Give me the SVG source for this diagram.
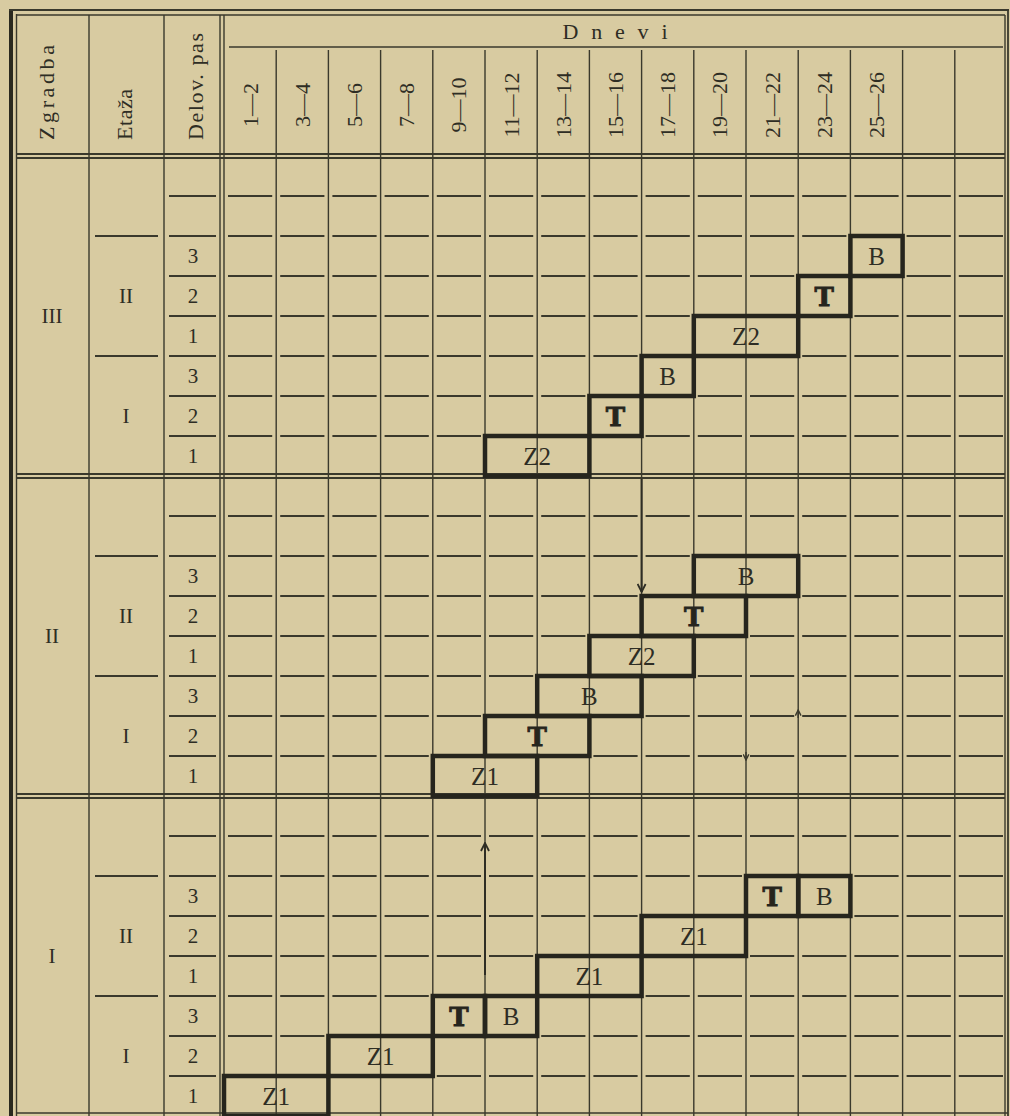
<svg xmlns="http://www.w3.org/2000/svg" width="1010" height="1116" viewBox="0 0 1010 1116">
<defs>
<style>
.bg{fill:#d8cba1}
.ln{stroke:#3a392c;stroke-width:1.4;fill:none}
.hl{stroke:#3a392c;stroke-width:1.8;fill:none}
.dash{stroke:#3a392c;stroke-width:2;fill:none;stroke-dasharray:44.2 8}
.bx{stroke:#26251d;stroke-width:4.5;fill:none;stroke-linejoin:miter}
.txt{font-family:"Liberation Serif","Times New Roman",serif;fill:#2e2d24}
.hdr{font-size:22px}
.day{font-size:22px;text-anchor:middle}
.lbl{font-size:21px;text-anchor:middle}
.cell{font-size:25px;text-anchor:middle}
.tt{font-family:"DejaVu Serif",serif;font-weight:bold;font-size:26px;text-anchor:middle;fill:#26251d;stroke:#26251d;stroke-width:0.9}
.arr{stroke:#2e2d24;stroke-width:2;fill:none}
</style>
<marker id="ah" viewBox="0 0 10 10" refX="9" refY="5" markerWidth="10" markerHeight="10" markerUnits="userSpaceOnUse" orient="auto">
<path d="M1,1 L9,5 L1,9" stroke="#2e2d24" stroke-width="1.8" fill="none"/>
</marker>
<marker id="ahs" viewBox="0 0 10 10" refX="9" refY="5" markerWidth="7" markerHeight="7" markerUnits="userSpaceOnUse" orient="auto">
<path d="M1,1 L9,5 L1,9" stroke="#3a392c" stroke-width="2" fill="none"/>
</marker>
</defs>
<rect class="bg" x="0" y="0" width="1010" height="1116"/>

<g id="grid">
<line x1="11" y1="9" x2="11" y2="1116" stroke="#2a291f" stroke-width="4"/>
<line class="ln" x1="16.5" y1="14" x2="16.5" y2="1116"/>
<line class="hl" x1="9" y1="10" x2="1009" y2="10" stroke-width="3"/>
<line class="ln" x1="16" y1="15" x2="1005" y2="15"/>
<line class="ln" x1="1005" y1="15" x2="1005" y2="1116"/>
<line class="hl" x1="1008" y1="10" x2="1008" y2="1116"/>
<line class="ln" x1="16" y1="1113" x2="1008" y2="1113"/>
<line class="ln" x1="89" y1="15" x2="89" y2="1116"/>
<line class="ln" x1="164" y1="15" x2="164" y2="1116"/>
<line class="ln" x1="220" y1="15" x2="220" y2="1116"/>
<line class="ln" x1="224" y1="15" x2="224" y2="1116"/>
<line class="ln" x1="229" y1="47" x2="1003" y2="47"/>
<path class="ln" d="M276.2,50V1116 M328.4,50V1116 M380.6,50V1116 M432.8,50V1116 M485,50V1116 M537.2,50V1116 M589.4,50V1116 M641.6,50V1116 M693.8,50V1116 M746,50V1116 M798.2,50V1116 M850.4,50V1116 M902.6,50V1116 M954.8,50V1116"/>
<path class="hl" d="M16,154H1005 M16,158H1005 M16,474H1005 M16,478H1005 M16,794H1005 M16,798H1005"/>
<path class="dash" d="M228,196H1003 M228,236H1003 M228,276H1003 M228,316H1003 M228,356H1003 M228,396H1003 M228,436H1003 M228,516H1003 M228,556H1003 M228,596H1003 M228,636H1003 M228,676H1003 M228,716H1003 M228,756H1003 M228,836H1003 M228,876H1003 M228,916H1003 M228,956H1003 M228,996H1003 M228,1036H1003 M228,1076H1003"/>
<path class="hl" d="M169,196H216 M169,236H216 M169,276H216 M169,316H216 M169,356H216 M169,396H216 M169,436H216 M169,516H216 M169,556H216 M169,596H216 M169,636H216 M169,676H216 M169,716H216 M169,756H216 M169,836H216 M169,876H216 M169,916H216 M169,956H216 M169,996H216 M169,1036H216 M169,1076H216"/>
<path class="hl" d="M95,236H158 M95,356H158 M95,556H158 M95,676H158 M95,876H158 M95,996H158"/>
</g>

<g id="header" class="txt">
<text class="hdr" transform="translate(54,140) rotate(-90)" textLength="95" lengthAdjust="spacing">Zgradba</text>
<text class="hdr" transform="translate(132,140) rotate(-90)" textLength="51" lengthAdjust="spacing">Etaža</text>
<text class="hdr" transform="translate(203,140) rotate(-90)" textLength="107" lengthAdjust="spacing">Delov. pas</text>
<text x="615" y="39" font-size="22" text-anchor="middle" textLength="105" lengthAdjust="spacing">Dnevi</text>
<text class="day" transform="translate(257.6,105) rotate(-90)">1—2</text>
<text class="day" transform="translate(309.8,105) rotate(-90)">3—4</text>
<text class="day" transform="translate(362,105) rotate(-90)">5—6</text>
<text class="day" transform="translate(414.2,105) rotate(-90)">7—8</text>
<text class="day" transform="translate(466.4,105) rotate(-90)">9—10</text>
<text class="day" transform="translate(518.6,105) rotate(-90)">11—12</text>
<text class="day" transform="translate(570.8,105) rotate(-90)">13—14</text>
<text class="day" transform="translate(623,105) rotate(-90)">15—16</text>
<text class="day" transform="translate(675.2,105) rotate(-90)">17—18</text>
<text class="day" transform="translate(727.4,105) rotate(-90)">19—20</text>
<text class="day" transform="translate(779.6,105) rotate(-90)">21—22</text>
<text class="day" transform="translate(831.8,105) rotate(-90)">23—24</text>
<text class="day" transform="translate(884,105) rotate(-90)">25—26</text>
</g>

<g id="labels" class="txt">
<text class="lbl" x="52" y="323">III</text>
<text class="lbl" x="126" y="303">II</text>
<text class="lbl" x="126" y="423">I</text>
<text class="lbl" x="193" y="263">3</text>
<text class="lbl" x="193" y="303">2</text>
<text class="lbl" x="193" y="343">1</text>
<text class="lbl" x="193" y="383">3</text>
<text class="lbl" x="193" y="423">2</text>
<text class="lbl" x="193" y="463">1</text>

<text class="lbl" x="52" y="643">II</text>
<text class="lbl" x="126" y="623">II</text>
<text class="lbl" x="126" y="743">I</text>
<text class="lbl" x="193" y="583">3</text>
<text class="lbl" x="193" y="623">2</text>
<text class="lbl" x="193" y="663">1</text>
<text class="lbl" x="193" y="703">3</text>
<text class="lbl" x="193" y="743">2</text>
<text class="lbl" x="193" y="783">1</text>

<text class="lbl" x="52" y="963">I</text>
<text class="lbl" x="126" y="943">II</text>
<text class="lbl" x="126" y="1063">I</text>
<text class="lbl" x="193" y="903">3</text>
<text class="lbl" x="193" y="943">2</text>
<text class="lbl" x="193" y="983">1</text>
<text class="lbl" x="193" y="1023">3</text>
<text class="lbl" x="193" y="1063">2</text>
<text class="lbl" x="193" y="1103">1</text>
</g>

<g id="tasks-III">
<g id="t3-z2a"><rect class="bx" x="485" y="436" width="104.4" height="40"/><text class="txt cell" x="537.2" y="465">Z2</text></g>
<g id="t3-ta"><rect class="bx" x="589.4" y="396" width="52.2" height="40"/><text class="tt" x="615.5" y="426">T</text></g>
<g id="t3-ba"><rect class="bx" x="641.6" y="356" width="52.2" height="40"/><text class="txt cell" x="667.7" y="385">B</text></g>
<g id="t3-z2b"><rect class="bx" x="693.8" y="316" width="104.4" height="40"/><text class="txt cell" x="746" y="345">Z2</text></g>
<g id="t3-tb"><rect class="bx" x="798.2" y="276" width="52.2" height="40"/><text class="tt" x="824.3" y="306">T</text></g>
<g id="t3-bb"><rect class="bx" x="850.4" y="236" width="52.2" height="40"/><text class="txt cell" x="876.5" y="265">B</text></g>
</g>

<g id="tasks-II">
<g id="t2-z1"><rect class="bx" x="432.8" y="756" width="104.4" height="40"/><text class="txt cell" x="485" y="785">Z1</text></g>
<g id="t2-ta"><rect class="bx" x="485" y="716" width="104.4" height="40"/><text class="tt" x="537.2" y="746">T</text></g>
<g id="t2-ba"><rect class="bx" x="537.2" y="676" width="104.4" height="40"/><text class="txt cell" x="589.4" y="705">B</text></g>
<g id="t2-z2"><rect class="bx" x="589.4" y="636" width="104.4" height="40"/><text class="txt cell" x="641.6" y="665">Z2</text></g>
<g id="t2-tb"><rect class="bx" x="641.6" y="596" width="104.4" height="40"/><text class="tt" x="693.8" y="626">T</text></g>
<g id="t2-bb"><rect class="bx" x="693.8" y="556" width="104.4" height="40"/><text class="txt cell" x="746" y="585">B</text></g>
</g>

<g id="tasks-I">
<g id="t1-z1a"><rect class="bx" x="224" y="1076" width="104.4" height="40"/><text class="txt cell" x="276.2" y="1105">Z1</text></g>
<g id="t1-z1b"><rect class="bx" x="328.4" y="1036" width="104.4" height="40"/><text class="txt cell" x="380.6" y="1065">Z1</text></g>
<g id="t1-ta"><rect class="bx" x="432.8" y="996" width="52.2" height="40"/><text class="tt" x="458.9" y="1026">T</text></g>
<g id="t1-ba"><rect class="bx" x="485" y="996" width="52.2" height="40"/><text class="txt cell" x="511.1" y="1025">B</text></g>
<g id="t1-z1c"><rect class="bx" x="537.2" y="956" width="104.4" height="40"/><text class="txt cell" x="589.4" y="985">Z1</text></g>
<g id="t1-z1d"><rect class="bx" x="641.6" y="916" width="104.4" height="40"/><text class="txt cell" x="693.8" y="945">Z1</text></g>
<g id="t1-tb"><rect class="bx" x="746" y="876" width="52.2" height="40"/><text class="tt" x="772.1" y="906">T</text></g>
<g id="t1-bb"><rect class="bx" x="798.2" y="876" width="52.2" height="40"/><text class="txt cell" x="824.3" y="905">B</text></g>
</g>

<g id="connectors">
<line class="arr" x1="641.6" y1="479" x2="641.6" y2="592" marker-end="url(#ah)"/>
<line class="arr" x1="485" y1="975" x2="485" y2="843" marker-end="url(#ah)"/>
<line class="ln" x1="746" y1="752" x2="746" y2="760" marker-end="url(#ahs)"/>
<line class="ln" x1="798.2" y1="718" x2="798.2" y2="710" marker-end="url(#ahs)"/>
</g>
</svg>
